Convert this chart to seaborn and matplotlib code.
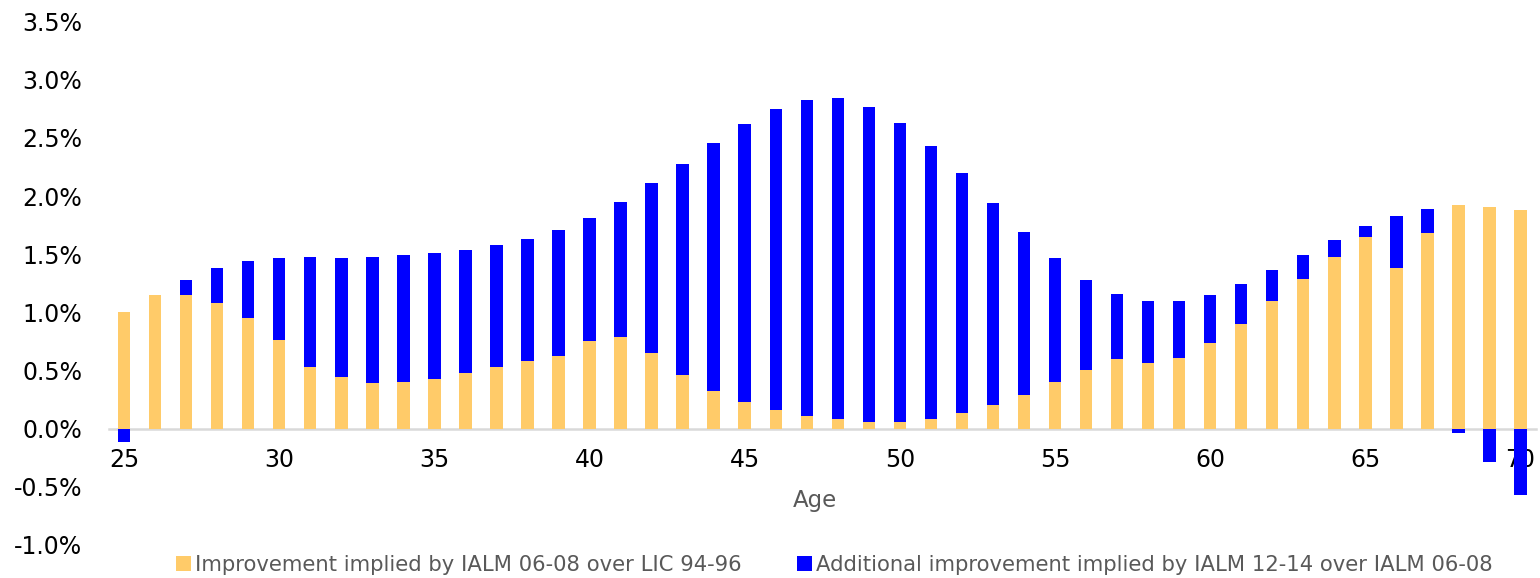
import numpy as np
import pandas as pd
import matplotlib
matplotlib.use("Agg")
import matplotlib.pyplot as plt
from matplotlib.patches import Patch
from matplotlib.ticker import FuncFormatter, MultipleLocator
import seaborn as sns

# Annual mortality improvement by age (%)
ages = list(range(25, 71))
improvement_0608 = [
    1.00, 1.15, 1.15, 1.08, 0.95, 0.76, 0.53, 0.44, 0.39, 0.40,
    0.43, 0.48, 0.53, 0.58, 0.62, 0.75, 0.79, 0.65, 0.46, 0.32,
    0.23, 0.16, 0.11, 0.08, 0.06, 0.06, 0.08, 0.13, 0.20, 0.29,
    0.40, 0.50, 0.60, 0.56, 0.61, 0.74, 0.90, 1.10, 1.29, 1.48,
    1.65, 1.38, 1.68, 1.92, 1.91, 1.88,
]
additional_1214 = [
    -0.12, 0.00, 0.13, 0.30, 0.49, 0.71, 0.95, 1.03, 1.09, 1.09,
    1.08, 1.06, 1.05, 1.05, 1.09, 1.06, 1.16, 1.46, 1.82, 2.14,
    2.39, 2.59, 2.72, 2.76, 2.71, 2.57, 2.35, 2.07, 1.74, 1.40,
    1.07, 0.78, 0.56, 0.54, 0.49, 0.41, 0.34, 0.26, 0.20, 0.14,
    0.09, 0.45, 0.21, -0.04, -0.29, -0.57,
]

label_a = "Improvement implied by IALM 06-08 over LIC 94-96"
label_b = "Additional improvement implied by IALM 12-14 over IALM 06-08"

yellow = "#FFCB69"
blue = "#0000FF"
grey_text = "#595959"

df = pd.DataFrame({"age": ages, "a": improvement_0608, "b": additional_1214})
# Positive additional improvement stacks on top of the base bar;
# negative values hang below zero.
df["b_top"] = np.where(df["b"] >= 0, df["a"] + df["b"], df["b"])

sns.set_style("white")
plt.rcParams["font.family"] = ["DejaVu Sans"]

fig = plt.figure(figsize=(15.4, 5.78), dpi=100)
ax = fig.add_axes([0.0705, 0.0576, 0.9269, 0.9047])

sns.barplot(data=df, x="age", y="b_top", native_scale=True, width=0.4,
            color=blue, saturation=1, linewidth=0, ax=ax)
sns.barplot(data=df, x="age", y="a", native_scale=True, width=0.4,
            color=yellow, saturation=1, linewidth=0, ax=ax)

ax.set_xlim(24.5, 70.5)
ax.set_ylim(-1.0, 3.5)
ax.yaxis.set_major_locator(MultipleLocator(0.5))
ax.yaxis.set_major_formatter(FuncFormatter(lambda v, _: f"{v:.1f}%"))
ax.set_xticks(list(range(25, 71, 5)))
ax.set_xticklabels([str(t) for t in range(25, 71, 5)])

for side in ("top", "right", "left"):
    ax.spines[side].set_visible(False)
ax.spines["bottom"].set_position(("data", 0))
ax.spines["bottom"].set_color("#D9D9D9")
ax.spines["bottom"].set_linewidth(1.8)
ax.spines["bottom"].set_zorder(0)

ax.tick_params(axis="x", length=0, pad=14, labelsize=17, labelcolor="black")
ax.tick_params(axis="y", length=0, pad=19, labelsize=17, labelcolor="black")
ax.set_xlabel("")
ax.set_ylabel("")
ax.grid(False)

fig.text(0.529, 1 - 500 / 578, "Age", ha="center", va="center",
         fontsize=16.5, color=grey_text)

handles = [Patch(facecolor=yellow, edgecolor="none", label=label_a),
           Patch(facecolor=blue, edgecolor="none", label=label_b)]
fig.legend(handles=handles, loc="center", bbox_to_anchor=(0.5419, 1 - 565 / 578),
           ncol=2, frameon=False, fontsize=15.25, labelcolor=grey_text,
           handlelength=0.7, handleheight=0.7, handletextpad=0.2,
           columnspacing=2.6, borderpad=0)

fig.savefig("out.png", dpi=100)
